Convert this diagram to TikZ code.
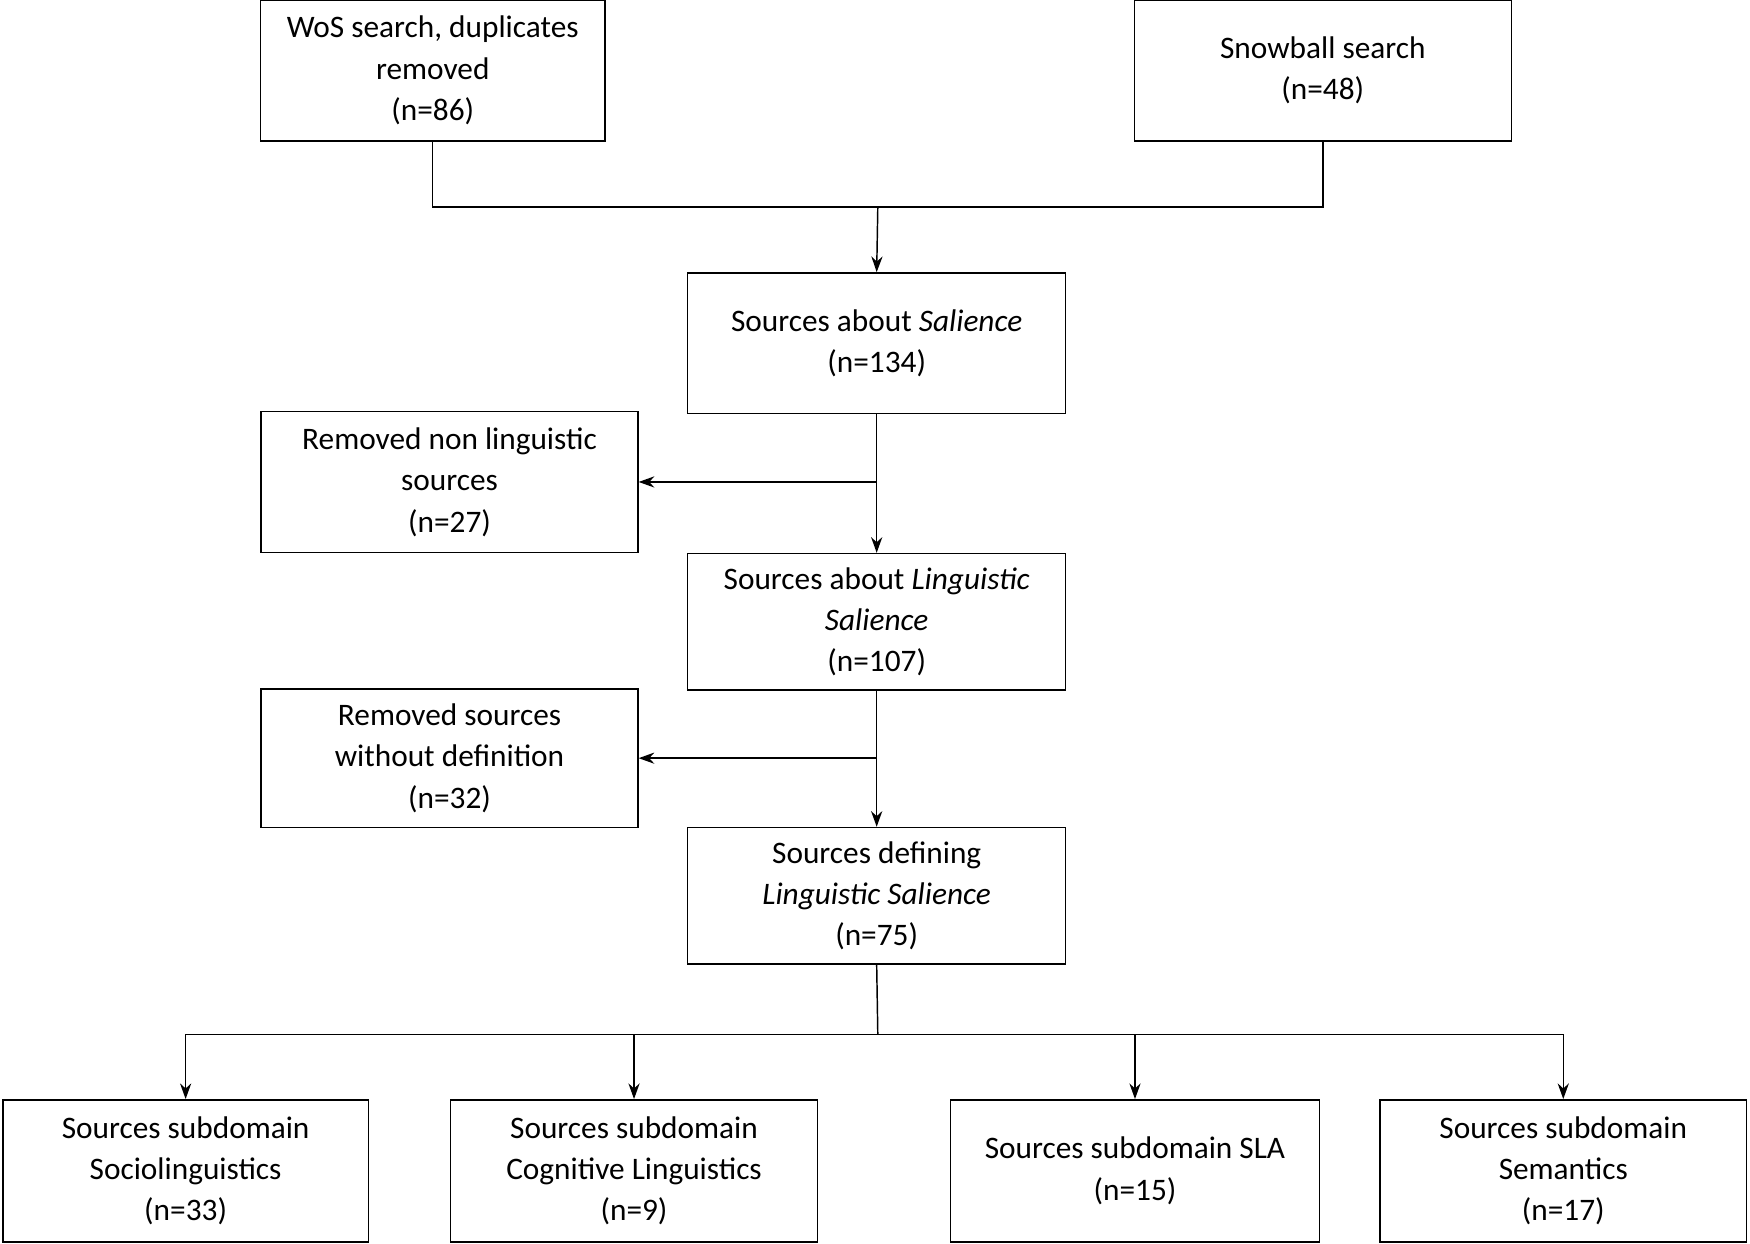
\documentclass[tikz,border=0pt]{standalone}
\usepackage{fontspec}
\setmainfont{Carlito}
\usetikzlibrary{arrows.meta}
\begin{document}
\begin{tikzpicture}[x=1pt,y=-1pt,
  box/.style={draw,line width=1.3pt,align=center,inner sep=0pt,font=\fontsize{28}{37}\selectfont},
  ar/.style={line width=1.3pt,-{Stealth[length=14pt,width=10pt]}},
  ln/.style={line width=1.3pt}]
\useasboundingbox (0,0) rectangle (1565,1112);
\node[box,minimum width=308,minimum height=126] (wos) at (387,63) {WoS search, duplicates\\removed\\(n=86)};
\node[box,minimum width=337,minimum height=126] (snow) at (1183,63) {Snowball search\\(n=48)};
\node[box,minimum width=338,minimum height=126] (sal) at (784,307) {Sources about \textit{Salience}\\(n=134)};
\node[box,minimum width=337,minimum height=126] (rem1) at (402,431) {Removed non linguistic\\sources\\(n=27)};
\node[box,minimum width=338,minimum height=122] (ling) at (784,556) {Sources about \textit{Linguistic}\\\textit{Salience}\\(n=107)};
\node[box,minimum width=337,minimum height=124] (rem2) at (402,678) {Removed sources\\without definition\\(n=32)};
\node[box,minimum width=338,minimum height=122] (def) at (784,801) {Sources defining\\\textit{Linguistic Salience}\\(n=75)};
\node[box,minimum width=327,minimum height=127] (b1) at (166,1047) {Sources subdomain\\Sociolinguistics\\(n=33)};
\node[box,minimum width=328,minimum height=127] (b2) at (567,1047) {Sources subdomain\\Cognitive Linguistics\\(n=9)};
\node[box,minimum width=330,minimum height=127] (b3) at (1015,1047) {Sources subdomain SLA\\(n=15)};
\node[box,minimum width=328,minimum height=127] (b4) at (1398,1047) {Sources subdomain\\Semantics\\(n=17)};
\coordinate (j1) at (785,185);
\coordinate (j2) at (785,925);
\draw[ln] (wos.south) |- (j1) -| (snow.south);
\draw[ar] (j1) -- (sal.north);
\draw[ar] (sal.south) -- (ling.north);
\draw[ar] (sal.south |- rem1.east) -- (rem1.east);
\draw[ar] (ling.south) -- (def.north);
\draw[ar] (ling.south |- rem2.east) -- (rem2.east);
\draw[ln] (def.south) -- (j2);
\draw[ln] (b1.north |- j2) -- (b4.north |- j2);
\foreach \b in {b1,b2,b3,b4} \draw[ar] (\b.north |- j2) -- (\b.north);
\end{tikzpicture}
\end{document}
